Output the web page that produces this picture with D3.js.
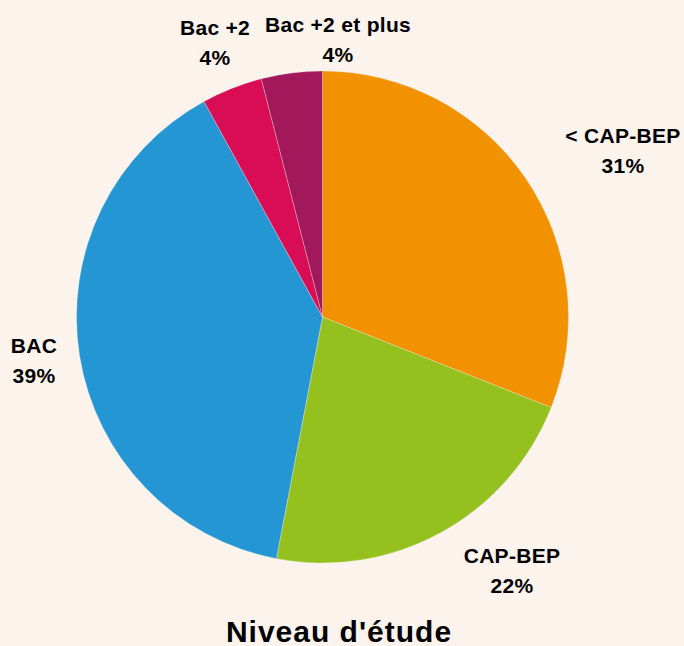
<!DOCTYPE html>
<html>
<head>
<meta charset="utf-8">
<script src="https://cdn.jsdelivr.net/npm/d3@7"></script>
<style>
  html, body { margin: 0; padding: 0; background: #FCF3ED; }
  svg { display: block; }
  text { font-family: "Liberation Sans", Arial, Helvetica, sans-serif; font-weight: bold; fill: #000; }
</style>
</head>
<body>
<script>
const categories = ["< CAP-BEP", "CAP-BEP", "BAC", "Bac +2", "Bac +2 et plus"];
const values = [31, 22, 39, 4, 4];
const colors = ["#F39200", "#95C11F", "#2596D4", "#D90D55", "#A1195A"];
const title = "Niveau d'étude";

const W = 684, H = 646;
const cx = 322.5, cy = 317, R = 246;

const svg = d3.select("body").append("svg").attr("width", W).attr("height", H);
svg.append("rect").attr("width", W).attr("height", H).attr("fill", "#FCF3ED");

const data = categories.map((c, i) => ({ cat: c, value: values[i], color: colors[i] }));
const pie = d3.pie().value(d => d.value).sort(null);
const arcs = pie(data);
const arc = d3.arc().innerRadius(0).outerRadius(R);

const g = svg.append("g").attr("transform", `translate(${cx},${cy})`);
g.selectAll("path").data(arcs).join("path")
  .attr("d", arc)
  .attr("fill", d => d.data.color)
  .attr("stroke", "#FCF3ED")
  .attr("stroke-width", 0.3);

const labelPos = {
  "< CAP-BEP": [623, 143],
  "CAP-BEP": [512, 563],
  "BAC": [34, 353],
  "Bac +2": [215, 35],
  "Bac +2 et plus": [338, 32]
};

arcs.forEach(a => {
  const p = labelPos[a.data.cat];
  const t = svg.append("text")
    .attr("text-anchor", "middle")
    .attr("font-size", 21)
    .attr("letter-spacing", 0.3)
    .attr("x", p[0]).attr("y", p[1]);
  t.append("tspan").attr("x", p[0]).text(a.data.cat);
  t.append("tspan").attr("x", p[0]).attr("dy", 30).text(a.data.value + "%");
});

svg.append("text")
  .attr("x", 339).attr("y", 642)
  .attr("text-anchor", "middle")
  .attr("font-size", 30)
  .attr("letter-spacing", 1)
  .text(title);
</script>
</body>
</html>
